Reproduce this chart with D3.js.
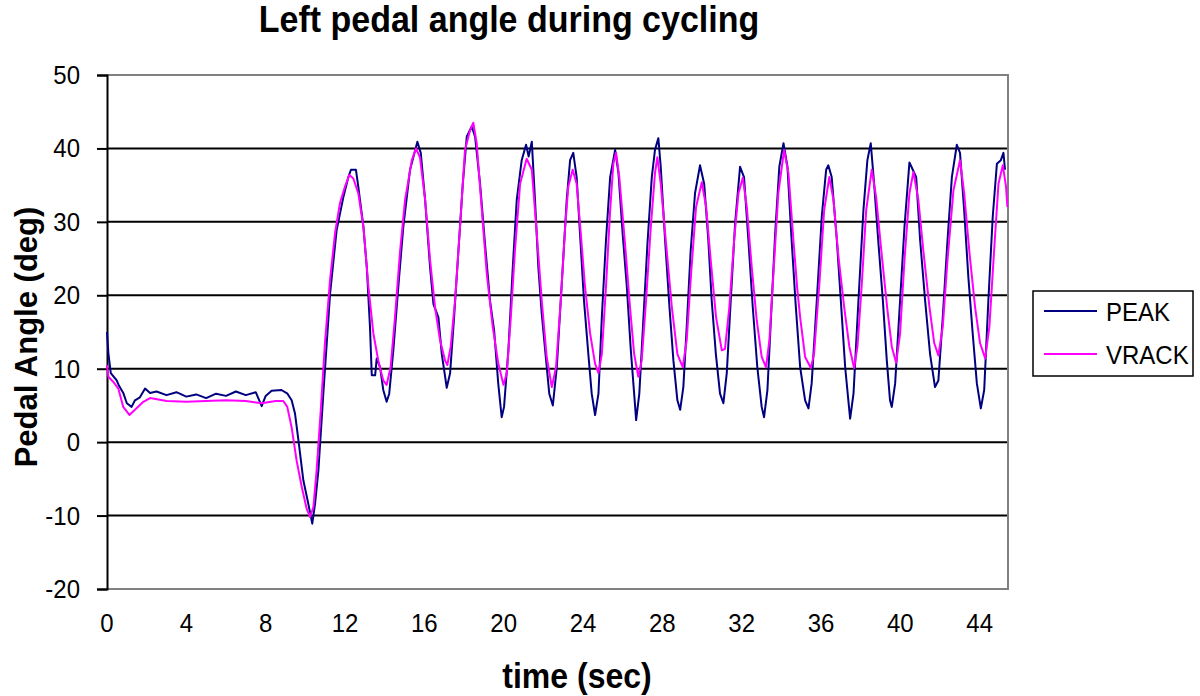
<!DOCTYPE html>
<html>
<head>
<meta charset="utf-8">
<script src="https://cdn.jsdelivr.net/npm/d3@7"></script>
<style>
  html, body { margin: 0; padding: 0; background: #fff; }
  svg { display: block; }
  text { font-family: "Liberation Sans", Arial, Helvetica, sans-serif; fill: #000; }
</style>
</head>
<body>
<svg id="chart" width="1200" height="696"></svg>
<script>
// ---------- data ----------
const chartTitle = "Left pedal angle during cycling";
const xTitle = "time (sec)";
const yTitle = "Pedal Angle (deg)";
const seriesNames = ["PEAK", "VRACK"];
const xTickValues = [0, 4, 8, 12, 16, 20, 24, 28, 32, 36, 40, 44];
const yTickValues = [-20, -10, 0, 10, 20, 30, 40, 50];

const peakTime = [0, 0.07, 0.19, 0.49, 0.6, 0.82, 1.0, 1.24, 1.41, 1.66, 1.92, 2.17, 2.5, 3.0, 3.5, 4.0, 4.5, 5.0, 5.5, 6.0, 6.5, 7.0, 7.5, 7.8, 8.0, 8.3, 8.8, 9.1, 9.31, 9.48, 9.65, 9.9, 10.15, 10.35, 10.49, 10.66, 10.91, 11.25, 11.58, 11.92, 12.17,
  12.3, 12.55, 12.67, 12.93, 13.1, 13.26, 13.35, 13.52, 13.6, 13.77, 13.93, 14.1, 14.23, 14.44, 14.69, 14.94, 15.28, 15.65, 15.82, 16.04, 16.29, 16.46, 16.71, 16.88, 17.05, 17.13, 17.3, 17.5, 17.72, 17.94, 18.14, 18.39, 18.56, 18.81, 19.06, 19.31, 19.52, 19.73, 19.9, 20.02, 20.24, 20.46, 20.66, 20.91, 21.13, 21.26, 21.42, 21.58, 21.75, 21.92, 22.09, 22.3, 22.48, 22.68, 22.93, 23.18,
  23.35, 23.51, 23.68, 23.85, 24.05, 24.27, 24.44, 24.61, 24.78, 24.95, 25.16, 25.37, 25.62, 25.79, 26.0, 26.21, 26.41, 26.58, 26.68, 26.84, 27.05, 27.25, 27.47, 27.63, 27.8, 27.92, 28.14, 28.36, 28.56, 28.76, 28.9, 29.06, 29.23, 29.43, 29.65, 29.9, 30.11, 30.32, 30.49, 30.7, 30.91, 31.08, 31.25, 31.45, 31.67, 31.92, 32.12, 32.34, 32.56, 32.79, 33.01, 33.13, 33.3, 33.48, 33.69, 33.9, 34.11, 34.31, 34.5, 34.72, 34.95, 35.2, 35.37, 35.53, 35.79, 36.04, 36.26, 36.37, 36.54, 36.8, 37.0, 37.22, 37.38, 37.47, 37.64, 37.89, 38.14, 38.34, 38.51, 38.68, 38.9, 39.12, 39.32, 39.48, 39.57, 39.74, 39.99, 40.21, 40.46, 40.63, 40.8, 41.0, 41.25, 41.5, 41.75, 41.92, 42.14, 42.38, 42.6, 42.85, 43.01, 43.22, 43.43, 43.65, 43.86, 44.06, 44.23, 44.44, 44.66, 44.87, 45.07, 45.2, 45.28];
const peakAngle = [15.0, 12.1, 9.4, 8.4, 7.7, 6.7, 5.3, 4.8, 5.7, 6.1, 7.3, 6.7, 6.9, 6.4, 6.8, 6.2, 6.5, 6.0, 6.6, 6.3, 6.9, 6.4, 6.8, 4.9, 6.3, 7.0, 7.1, 6.6, 5.7, 3.9, 0.3, -5.2, -8.4, -11.1, -8.4, -3.8, 6.7, 20.3, 28.9, 33.4, 36.1,
  37.1, 37.1, 34.8, 29.3, 23.8, 15.7, 9.1, 9.1, 11.4, 10.2, 7.1, 5.5, 6.6, 12.6, 21.2, 29.3, 37.1, 40.9, 39.4, 33.0, 23.8, 18.8, 17.0, 12.0, 8.9, 7.4, 9.4, 17.0, 26.1, 35.2, 41.6, 43.0, 41.6, 35.2, 27.0, 19.3, 15.2, 7.9, 3.4, 4.8, 12.6, 23.8, 33.0, 38.4, 40.5, 38.9, 40.9, 33.0, 23.8, 17.5, 12.6, 6.6, 5.0, 10.2, 21.6, 33.0,
  38.4, 39.4, 36.1, 28.4, 19.3, 12.0, 6.6, 3.7, 6.6, 17.0, 27.5, 36.1, 39.8, 36.6, 28.4, 21.2, 12.6, 6.6, 3.0, 6.6, 17.0, 27.0, 36.1, 39.8, 41.4, 37.5, 27.5, 18.4, 11.1, 5.7, 4.4, 7.5, 15.7, 26.1, 33.9, 37.7, 35.2, 27.5, 19.3, 12.0, 6.6, 5.3, 9.4, 19.3, 29.8, 37.5, 36.1, 27.5, 18.4, 10.2, 4.8, 3.4, 7.1, 17.0, 28.4, 37.5, 40.7, 37.5, 28.4, 18.9, 10.2, 5.7, 4.6, 8.0, 19.3, 30.7, 37.1, 37.7, 36.1, 27.5, 19.3, 10.2, 5.7, 3.2, 6.6, 19.3, 31.6, 38.4, 40.7, 35.2, 27.0, 19.3, 11.1, 5.7, 4.8, 8.0, 19.3, 29.3, 38.1, 37.1, 36.1, 27.5, 19.3, 12.0, 7.5, 8.4, 17.0, 27.5, 36.1, 40.5, 39.4, 31.6, 22.5, 14.8, 8.0, 4.6, 7.1, 19.3, 30.7, 37.9, 38.4, 39.4, 37.1];

const vrackTime = [0, 0.07, 0.32, 0.57, 0.82, 1.13, 1.41, 1.83, 2.17, 3.01, 4.0, 5.0, 6.0, 7.0, 7.8, 8.5, 8.89, 9.09, 9.31, 9.56, 9.82, 10.07, 10.24, 10.41, 10.57, 10.78, 10.99, 11.25, 11.5, 11.75, 12.0, 12.22,
  12.42, 12.67, 12.93, 13.18, 13.43, 13.68, 13.93, 14.1, 14.3, 14.52, 14.78, 15.03, 15.37, 15.58, 15.78, 16.04, 16.29, 16.54, 16.79, 17.05, 17.16, 17.33, 17.55, 17.8, 18.05, 18.3, 18.47, 18.64, 18.9, 19.15, 19.45, 19.73, 19.99, 20.16, 20.36, 20.57, 20.83, 21.16, 21.42, 21.67, 21.92, 22.17, 22.43, 22.64, 22.88, 23.1,
  23.26, 23.48, 23.68, 23.89, 24.1, 24.36, 24.61, 24.78, 24.95, 25.16, 25.37, 25.53, 25.67, 25.83, 26.12, 26.37, 26.58, 26.79, 26.96, 27.18, 27.42, 27.63, 27.75, 27.92, 28.19, 28.48, 28.76, 29.03, 29.23, 29.45, 29.7, 29.99, 30.21, 30.44, 30.71, 31.0, 31.16, 31.38, 31.62, 31.84, 32.06, 32.26, 32.51, 32.76, 33.01, 33.23, 33.4, 33.6, 33.85, 34.14, 34.36, 34.61, 34.8, 34.95, 35.2, 35.49, 35.65, 35.92, 36.16, 36.42, 36.63, 36.88, 37.17, 37.43, 37.67, 37.84, 38.06, 38.28, 38.56, 38.78, 39.07, 39.35, 39.57, 39.79, 39.99, 40.21, 40.46, 40.66, 40.91, 41.16, 41.47, 41.71, 41.92, 42.14, 42.38, 42.68, 43.01, 43.22, 43.49, 43.77, 44.02, 44.28, 44.49, 44.73, 44.95, 45.17, 45.33, 45.4];
const vrackAngle = [10.5, 8.9, 8.2, 7.3, 4.8, 3.7, 4.4, 5.5, 6.0, 5.6, 5.5, 5.6, 5.7, 5.6, 5.3, 5.6, 5.6, 4.8, 2.0, -2.5, -6.1, -9.1, -10.2, -8.8, -3.8, 4.4, 13.5, 22.2, 28.5, 32.6, 34.8, 36.4,
  35.9, 33.9, 29.3, 21.2, 14.8, 11.1, 8.4, 7.8, 10.2, 17.0, 26.1, 33.0, 38.4, 40.0, 38.8, 33.0, 24.8, 18.4, 13.9, 11.1, 10.5, 13.0, 19.3, 29.3, 39.8, 42.4, 43.5, 40.7, 31.6, 22.9, 15.7, 10.7, 7.8, 9.4, 17.0, 26.1, 35.2, 38.6, 37.1, 28.4, 19.3, 11.6, 7.5, 10.2, 19.3, 29.3,
  34.8, 37.1, 35.2, 28.4, 21.2, 14.8, 10.7, 9.4, 12.0, 21.2, 31.6, 37.9, 39.4, 36.1, 27.0, 18.4, 12.0, 8.9, 11.1, 19.3, 29.3, 36.6, 38.8, 35.2, 27.0, 18.4, 12.0, 10.2, 13.9, 22.9, 32.0, 35.4, 32.0, 24.8, 17.0, 12.5, 12.7, 18.4, 27.5, 33.9, 36.0, 32.0, 23.8, 16.6, 11.6, 10.2, 13.9, 22.9, 33.9, 39.8, 36.6, 27.5, 21.0, 17.0, 11.6, 10.1, 12.0, 21.6, 31.6, 36.1, 33.0, 25.3, 18.4, 13.0, 10.1, 13.0, 21.6, 31.6, 37.1, 33.4, 25.3, 18.0, 13.0, 10.8, 14.8, 24.8, 33.9, 36.8, 33.0, 26.1, 18.4, 13.5, 11.8, 15.7, 24.8, 34.3, 38.4, 33.9, 25.7, 18.4, 13.5, 11.4, 15.7, 26.1, 35.2, 37.7, 34.8, 32.0];

const seriesColors = ["#000080", "#FF00FF"];

// ---------- layout ----------
const svg = d3.select("#chart");
const W = 1200, H = 696;
const plot = { left: 107, right: 1008, top: 75, bottom: 589 };
const vStretch = 1.09;

const x = d3.scaleLinear().domain([0, 45.43]).range([plot.left, plot.right]);
const y = d3.scaleLinear().domain([-20, 50]).range([plot.bottom, plot.top]);

svg.append("rect").attr("width", W).attr("height", H).attr("fill", "#fff");

function label(sel, tx, ty, txt, opts) {
  const t = sel.append("text")
    .attr("transform", `translate(${tx},${ty}) scale(1,${vStretch})`)
    .attr("text-anchor", opts.anchor || "middle")
    .style("font-size", opts.size + "px")
    .style("font-weight", opts.bold ? "bold" : "normal")
    .text(txt);
  return t;
}

// gridlines
svg.append("g").selectAll("line")
  .data(yTickValues.filter(v => v > -20 && v < 50))
  .join("line")
  .attr("x1", plot.left).attr("x2", plot.right)
  .attr("y1", d => y(d)).attr("y2", d => y(d))
  .attr("stroke", "#000").attr("stroke-width", 2);

// plot border (gray) top/right/bottom
svg.append("path")
  .attr("d", `M${plot.left},${plot.top}H${plot.right}V${plot.bottom}H${plot.left}`)
  .attr("fill", "none").attr("stroke", "#808080").attr("stroke-width", 2);

// y axis
const yAxis = d3.axisLeft(y).tickValues(yTickValues).tickSize(10).tickFormat("");
const yg = svg.append("g").attr("transform", `translate(${plot.left},0)`).call(yAxis);
yg.select(".domain").attr("stroke", "#000").attr("stroke-width", 2);
yg.selectAll(".tick line").attr("stroke", "#000").attr("stroke-width", 2);

// y tick labels
yTickValues.forEach(v => label(svg, 80, y(v) + 9, String(v), { size: 24, anchor: "end" }));
// x tick labels
xTickValues.forEach(v => label(svg, x(v), 632, String(v), { size: 24, anchor: "middle" }));

// series lines
const line = d3.line().x(d => x(d[0])).y(d => y(d[1]));
const peakData = d3.zip(peakTime, peakAngle);
const vrackData = d3.zip(vrackTime, vrackAngle);
svg.append("path").datum(peakData).attr("d", line)
  .attr("fill", "none").attr("stroke", seriesColors[0]).attr("stroke-width", 2).attr("stroke-linejoin", "round");
svg.append("path").datum(vrackData).attr("d", line)
  .attr("fill", "none").attr("stroke", seriesColors[1]).attr("stroke-width", 2).attr("stroke-linejoin", "round");

// titles
label(svg, 509, 32, chartTitle, { size: 34, bold: true });
label(svg, 577, 688, xTitle, { size: 32, bold: true });
svg.append("text")
  .attr("transform", `translate(37,337) rotate(-90)`)
  .attr("text-anchor", "middle")
  .style("font-size", "31px").style("font-weight", "bold")
  .text(yTitle);

// legend
const lg = svg.append("g");
lg.append("rect").attr("x", 1033).attr("y", 291).attr("width", 160).attr("height", 85)
  .attr("fill", "#fff").attr("stroke", "#000").attr("stroke-width", 1.5);
const legendY = [311, 354];
seriesNames.forEach((name, i) => {
  lg.append("line").attr("x1", 1044).attr("x2", 1097).attr("y1", legendY[i]).attr("y2", legendY[i])
    .attr("stroke", seriesColors[i]).attr("stroke-width", 2);
  label(lg, 1106, legendY[i] + 10, name, { size: 24, anchor: "start" });
});
</script>
</body>
</html>
